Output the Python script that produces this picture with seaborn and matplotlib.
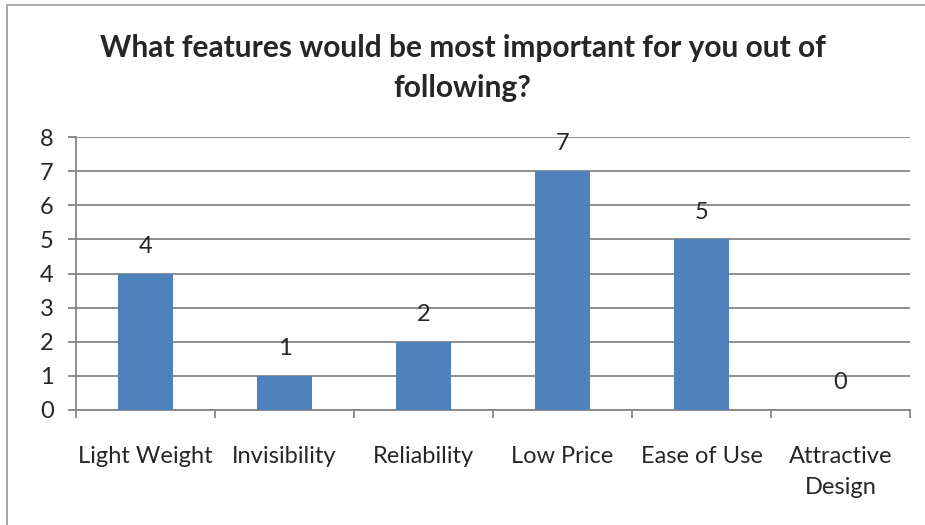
import matplotlib
matplotlib.use('Agg')
import matplotlib.pyplot as plt
import numpy as np
import pandas as pd
import seaborn as sns
from matplotlib.patches import Rectangle

# 数据
features = ['Light Weight', 'Invisibility', 'Reliability', 'Low Price', 'Ease of Use', 'Attractive\nDesign']
counts = [4, 1, 2, 7, 5, 0]
y_ticks = [0, 1, 2, 3, 4, 5, 6, 7, 8]

sns.set_style('white')
plt.rcParams['font.family'] = ['Lato', 'DejaVu Sans']

df = pd.DataFrame({'feature': features, 'count': counts})

fig = plt.figure(figsize=(9.25, 5.25), dpi=100)
ax = fig.add_axes([76 / 925, 1 - 410 / 525, (910 - 76) / 925, (410 - 137) / 525])

sns.barplot(data=df, x='feature', y='count', color='#4F81BD', width=0.4,
            saturation=1, linewidth=0, ax=ax, zorder=3)

grid_c = '#868686'
ax.set_ylim(0, 8)
ax.set_xlim(-0.5, len(features) - 0.5)
ax.set_yticks(y_ticks)
ax.yaxis.grid(True, color=grid_c, linewidth=1.3, zorder=0)
ax.set_axisbelow(True)
for s in ['top', 'right']:
    ax.spines[s].set_visible(False)
for s in ['left', 'bottom']:
    ax.spines[s].set_color(grid_c)
    ax.spines[s].set_linewidth(1.3)

ax.tick_params(axis='y', length=6, width=1.3, color=grid_c, labelsize=17, pad=10, left=True)
ax.set_xticks(np.arange(-0.5, len(features)), minor=True)
ax.tick_params(axis='x', which='major', length=0, labelsize=17, pad=26)
ax.tick_params(axis='x', which='minor', length=6, width=1.3, color=grid_c, bottom=True)
for lbl in ax.get_xticklabels():
    lbl.set_linespacing(1.6)
ax.set_xlabel('')
ax.set_ylabel('')

for i, v in enumerate(counts):
    ax.annotate(str(v), (i, v), xytext=(0, 12), textcoords='offset points',
                ha='center', va='bottom', fontsize=17)

fig.text(0.5, 1 - 68 / 525, 'What features would be most important for you out of\nfollowing?',
         ha='center', va='center', fontsize=21.5, fontweight='bold', linespacing=1.5)

# 外框
fig.patches.append(Rectangle((7 / 925, -0.1), 1.2, 1 - 5 / 525 + 0.1, transform=fig.transFigure,
                             fill=False, edgecolor='#a0a0a0', linewidth=1.3))

plt.savefig('out.png', dpi=100)
plt.close()
